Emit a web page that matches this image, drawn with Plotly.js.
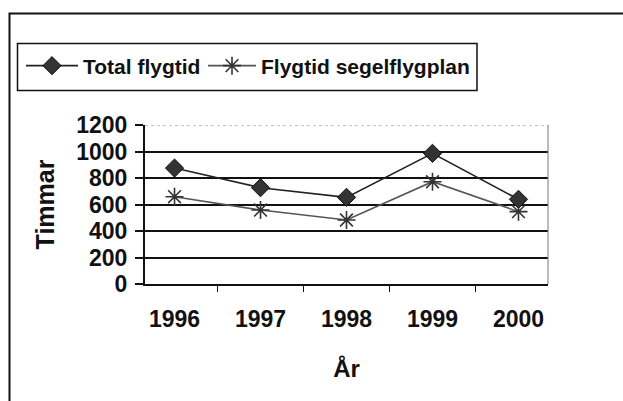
<!DOCTYPE html>
<html>
<head>
<meta charset="utf-8">
<script src="https://cdn.plot.ly/plotly-3.0.1.min.js"></script>
<style>html,body{margin:0;padding:0;background:#fff;}#chart{width:623px;height:401px;}</style>
</head>
<body>
<div id="chart"></div>
<script>
const years = ["1996", "1997", "1998", "1999", "2000"];
const totalFlygtid = [875, 727, 654, 986, 639];
const segelFlygtid = [659, 558, 483, 772, 546];
const yTicks = [0, 200, 400, 600, 800, 1000, 1200];

const FONT = "Liberation Sans, Arial, sans-serif";

const traces = [
  {
    type: "scatter", mode: "lines+markers", name: "<b>Total flygtid</b>",
    x: years, y: totalFlygtid, legend: "legend",
    line: {color: "#222", width: 1.6},
    marker: {symbol: "diamond", size: 14, color: "#333", line: {color: "#111", width: 1}}
  },
  {
    type: "scatter", mode: "lines+markers", name: "<b>Flygtid segelflygplan</b>",
    x: years, y: segelFlygtid, legend: "legend2",
    line: {color: "#555", width: 1.6},
    marker: {symbol: "asterisk-open", size: 15, color: "#333", line: {color: "#333", width: 1.6}}
  }
];

// margins
const L = 145, R = 75, T = 125, B = 117;
const W = 623 - L - R, H = 401 - T - B;
const px = v => (v - L) / W;
const py = v => (401 - B - v) / H;

const legendBase = {
  orientation: "h", xanchor: "left", yanchor: "middle", y: py(66),
  borderwidth: 0, bgcolor: "rgba(0,0,0,0)",
  font: {family: FONT, size: 21, color: "#111"}
};

const layout = {
  width: 623, height: 401,
  margin: {l: L, r: R, t: T, b: B, pad: 0},
  paper_bgcolor: "#fff", plot_bgcolor: "#fff",
  font: {family: FONT, color: "#111", size: 21},
  showlegend: true,
  legend: Object.assign({}, legendBase, {x: px(21), itemwidth: 52}),
  legend2: Object.assign({}, legendBase, {x: px(203), itemwidth: 48}),
  xaxis: {
    type: "category", tickson: "boundaries", ticks: "outside", ticklen: 6, tickwidth: 1.5, tickcolor: "#111",
    showline: true, linecolor: "#111", linewidth: 2, showgrid: false, zeroline: false,
    tickfont: {family: FONT, size: 23, color: "#111", weight: "bold"},
    ticklabelstandoff: 13,
    title: {text: "<b>År</b>", font: {family: FONT, size: 24, color: "#111"}, standoff: 30},
    fixedrange: true
  },
  yaxis: {
    range: [0, 1200], tickvals: yTicks, ticks: "outside", ticklen: 8, tickwidth: 2, tickcolor: "#111",
    showline: true, linecolor: "#111", linewidth: 2, showgrid: true, gridcolor: "#111", gridwidth: 2,
    zeroline: false,
    tickfont: {family: FONT, size: 23, color: "#111", weight: "bold"},
    ticklabelstandoff: 3,
    title: {text: "<b>Timmar</b>", font: {family: FONT, size: 25, color: "#111"}, standoff: 14},
    fixedrange: true
  },
  shapes: [
    {type: "line", xref: "paper", yref: "y", x0: 0, x1: 1, y0: 1200, y1: 1200, line: {color: "#fff", width: 3}, layer: "above"},
    {type: "line", xref: "paper", yref: "y", x0: 0, x1: 1, y0: 1200, y1: 1200, line: {color: "#888", width: 1.2, dash: "dot"}, layer: "above"},
    {type: "line", xref: "paper", yref: "paper", x0: 1, x1: 1, y0: 0, y1: 1, line: {color: "#777", width: 1}, layer: "above"},
    {type: "rect", xref: "paper", yref: "paper", x0: px(9.5), x1: px(640), y0: py(13.5), y1: py(420), line: {color: "#111", width: 2}, layer: "below"},
    {type: "rect", xref: "paper", yref: "paper", x0: px(17.5), x1: px(477), y0: py(43.5), y1: py(90.5), line: {color: "#111", width: 1.5}, layer: "below"}
  ]
};

Plotly.newPlot("chart", traces, layout, {staticPlot: true, displayModeBar: false});
</script>
</body>
</html>
